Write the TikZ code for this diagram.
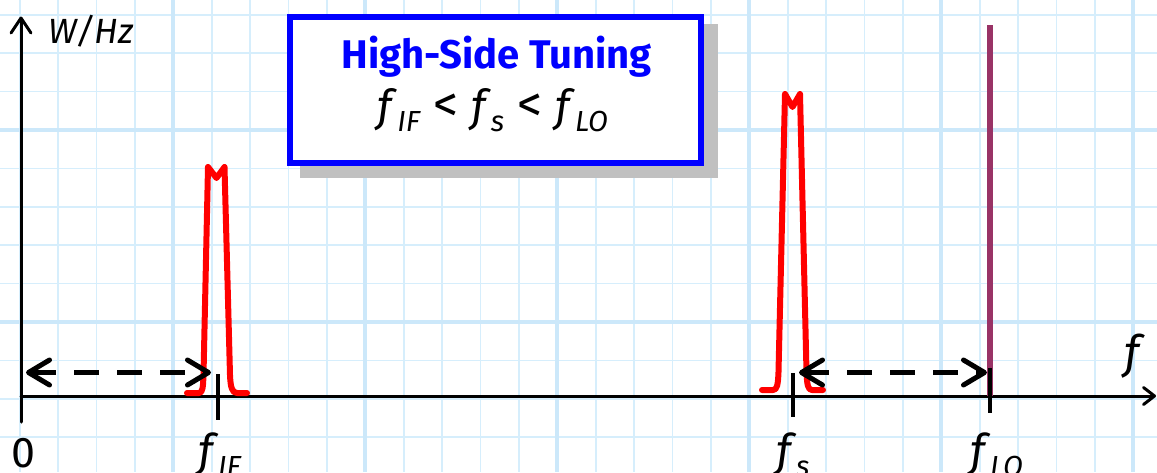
\documentclass[tikz,border=0pt]{standalone}
\usepackage{fontspec}
\setmainfont{Fira Sans}
\usetikzlibrary{arrows.meta}
\definecolor{gridmin}{HTML}{D6EEFC}
\definecolor{gridmaj}{HTML}{CCE8FA}
\definecolor{locol}{HTML}{993366}
\definecolor{shadowgray}{HTML}{C0C0C0}
\definecolor{titleblue}{HTML}{0000FF}
\newcommand\fq[1]{\textit{f}\kern-0.01em\raisebox{-10pt}{\fontsize{29}{29}\selectfont\itshape #1}}
\newcommand\lessop{\hspace{0.3em}{\fontsize{50}{50}\selectfont <}\hspace{0.3em}}
\tikzset{
  gridminor/.style={gridmin, line width=1.6},
  gridmajor/.style={gridmaj, line width=4},
  axisline/.style={black, line width=3, line cap=round},
  ytip/.style={-{Straight Barb[length=15pt,width=20pt,round]}},
  xtip/.style={-{Straight Barb[length=11pt,width=17pt,round]}},
  spectrum/.style={red, line width=6, line cap=round, line join=round},
  lotone/.style={locol, line width=6},
  tickmark/.style={black, line width=4},
  span/.style={black, line width=5, dash pattern=on 25pt off 18pt,
    {Straight Barb[length=21pt,width=25pt,round]}-{Straight Barb[length=21pt,width=25pt,round]}},
  lbl/.style={font=\fontsize{45}{48}\selectfont, inner sep=0, anchor=base west},
}
\begin{document}
\begin{tikzpicture}[x=1pt,y=-1pt]
\useasboundingbox (0,0) rectangle (1157,472);
% grid
\begin{scope}
\clip (0,0) rectangle (1157,472);
\foreach \k in {0,...,31} {
  \pgfmathsetmacro\xx{-18.7+38.4*\k}
  \draw[gridminor] (\xx,0) -- (\xx,472);
}
\foreach \j in {0,...,14} {
  \pgfmathsetmacro\yy{-62+38.4*\j}
  \draw[gridminor] (0,\yy) -- (1157,\yy);
}
\foreach \k in {0,...,6} {
  \pgfmathsetmacro\xx{-18.7+192*\k}
  \draw[gridmajor] (\xx,0) -- (\xx,472);
}
\foreach \j in {0,...,3} {
  \pgfmathsetmacro\yy{-62+192*\j}
  \draw[gridmajor] (0,\yy) -- (1157,\yy);
}
\end{scope}
% title box
\node[fill=shadowgray, minimum width=418, minimum height=154, inner sep=0] (shadow) at (509,101) {};
\node[draw=titleblue, line width=6, fill=white, minimum width=411, minimum height=146, inner sep=0] (box) at (495.9,89.75) {};
\node[font=\fontsize{40}{44}\selectfont\bfseries, text=titleblue, anchor=base, inner sep=0] (title) at (496.7,68.3) {High-Side Tuning};
\node[font=\fontsize{44}{48}\selectfont, anchor=base, inner sep=0] (rel) at (493,121.7) {\fq{IF}\lessop\fq{s}\lessop\fq{LO}};
% axes
\coordinate (ybot) at (21,422);
\coordinate (ytop) at (21,16.5);
\coordinate (O) at (21,396);
\coordinate (xend) at (1156,396);
\draw[axisline, ytip] (ybot) -- (ytop);
\draw[axisline, xtip] (O) -- (xend);
\node[font=\fontsize{35}{38}\selectfont\itshape, anchor=base west, inner sep=0] (wlabel) at (48,43) {W/Hz};
\node[font=\fontsize{46}{48}\selectfont\itshape, anchor=base west, inner sep=0] (flabel) at (1124,368) {f};
% LO tone
\coordinate (lotop) at (990,25);
\coordinate (lobot) at (990,396);
\draw[lotone] (lobot) -- (lotop);
% spectra
\draw[spectrum] (187,393) -- (199,393) .. controls (203,393) and (203,386) .. (203.5,375)
  -- (208,167) -- (216.5,178) -- (224.5,167) -- (230,375)
  .. controls (230.5,387) and (232,393) .. (237,393) -- (247,393);
\draw[spectrum] (762,390) -- (773,390) .. controls (777,390) and (778,385) .. (778.5,372)
  -- (785,94) -- (792.5,107) -- (800,94) -- (806.5,372)
  .. controls (807,385) and (808,390) .. (812,390) -- (823,390);
% ticks
\coordinate (tifa) at (218,374); \coordinate (tifb) at (218,420);
\coordinate (tsa) at (793,373); \coordinate (tsb) at (793,417);
\coordinate (tloa) at (990,368); \coordinate (tlob) at (990,413);
\draw[tickmark] (tifa) -- (tifb);
\draw[tickmark] (tsa) -- (tsb);
\draw[tickmark] (tloa) -- (tlob);
% dashed spans
\coordinate (s1a) at (26,372.5); \coordinate (s1b) at (211,372.5);
\coordinate (s2a) at (799,372.5); \coordinate (s2b) at (987,372.5);
\draw[span] (s1a) -- (s1b);
\draw[span] (s2a) -- (s2b);
% axis labels
\node[font=\fontsize{43}{46}\selectfont, anchor=base, inner sep=0] (zero) at (23,467) {0};
\node[lbl] (fif) at (198,466) {\fq{IF}};
\node[lbl] (fs) at (776,466) {\fq{s}};
\node[lbl] (flo) at (970,466) {\fq{LO}};
\end{tikzpicture}
\end{document}
